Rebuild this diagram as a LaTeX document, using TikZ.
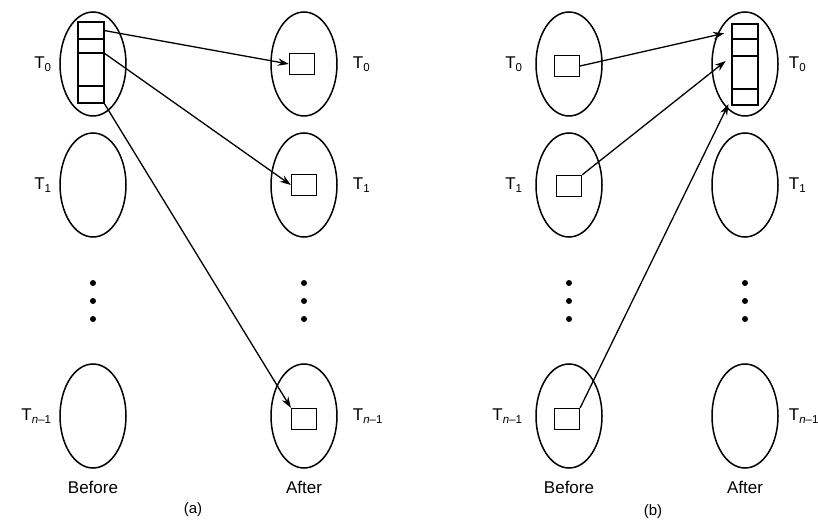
\documentclass[tikz,border=0pt]{standalone}
\usepackage{fontspec}
\setmainfont{Liberation Sans}
\usepackage{tikz}
\usetikzlibrary{positioning}
\usetikzlibrary{shapes.geometric}
\usetikzlibrary{arrows.meta}

\newcommand{\tsub}[1]{T\raisebox{-3pt}{\fontsize{11.5}{12}\selectfont #1}}

\begin{document}
\begin{tikzpicture}[x=1pt, y=-1pt,
    proc/.style={draw, ellipse, line width=1.5pt, minimum width=66pt, minimum height=104pt, inner sep=0pt},
    blk/.style={draw, line width=1.3pt, minimum width=25pt, minimum height=21pt, inner sep=0pt},
    cell/.style={draw, line width=1.3pt, minimum width=26pt, inner sep=0pt, outer sep=0pt},
    msg/.style={line width=1.3pt, -{Stealth[length=11pt, width=7.5pt]}},
    lbl/.style={font=\fontsize{17}{20}\selectfont, inner sep=0pt},
    dot/.style={circle, fill, inner sep=0pt, minimum size=6pt}]
  \useasboundingbox (0,0) rectangle (818,526);

  % processes T_0, T_1, T_{n-1} in each column, dots in between
  \foreach \x/\c in {93/aB, 304/aA, 569/bB, 745/bA} {
    \foreach \y/\r in {64/0, 185/1, 416/n}
      \node[proc] (\c\r) at (\x,\y) {};
    \foreach \y [count=\k] in {283, 301, 319}
      \node[dot] (\c d\k) at (\x,\y) {};
  }

  % process labels
  \foreach \c/\g in {aB/8, bB/13}
    \foreach \r/\t in {0/0, 1/1, n/{\textit{n}--1}}
      \node[lbl, left=\g pt of \c\r] (l\c\r) {\tsub{\t}};
  \foreach \c/\g in {aA/15, bA/10}
    \foreach \r/\t in {0/0, 1/1, n/{\textit{n}--1}}
      \node[lbl, right=\g pt of \c\r] (l\c\r) {\tsub{\t}};

  % stacked buffers
  \foreach \t/\h [count=\k] in {22/17, 39/14, 53/33, 86/17}
    \node[cell, minimum height=\h pt, anchor=north] (aS\k) at (91,\t) {};
  \foreach \t/\h [count=\k] in {24/15, 39/17, 56/33, 89/16}
    \node[cell, minimum height=\h pt, anchor=north] (bS\k) at (745,\t) {};

  % single blocks
  \node[blk] (aQ0) at (302,64) {};
  \node[blk] (aQ1) at (304,185) {};
  \node[blk] (aQn) at (304,419) {};
  \node[blk] (bQ0) at (567,66) {};
  \node[blk] (bQ1) at (569,186) {};
  \node[blk] (bQn) at (567,419) {};

  % scatter
  \draw[msg] (aS1.east) -- (aQ0.west);
  \draw[msg] (aS2.south east) -- (aQ1.west);
  \draw[msg] (aS4.south east) -- (aQn.north west);

  % gather
  \draw[msg, shorten >=8pt] (bQ0.east) -- (bS1.west);
  \draw[msg, shorten >=8pt] (bQ1.north east) -- (bS2.south west);
  \draw[msg, shorten >=8pt] (bQn.north east) -- (bS4.west);

  % column captions
  \node[lbl, below=12pt of aBn] (aBt) {Before};
  \node[lbl, below=12pt of aAn] (aAt) {After};
  \node[lbl, below=12pt of bBn] (bBt) {Before};
  \node[lbl, below=12pt of bAn] (bAt) {After};
  \node[lbl, font=\fontsize{15}{18}\selectfont] (capA) at (193,510) {(a)};
  \node[lbl, font=\fontsize{15}{18}\selectfont] (capB) at (653,512) {(b)};
\end{tikzpicture}
\end{document}
